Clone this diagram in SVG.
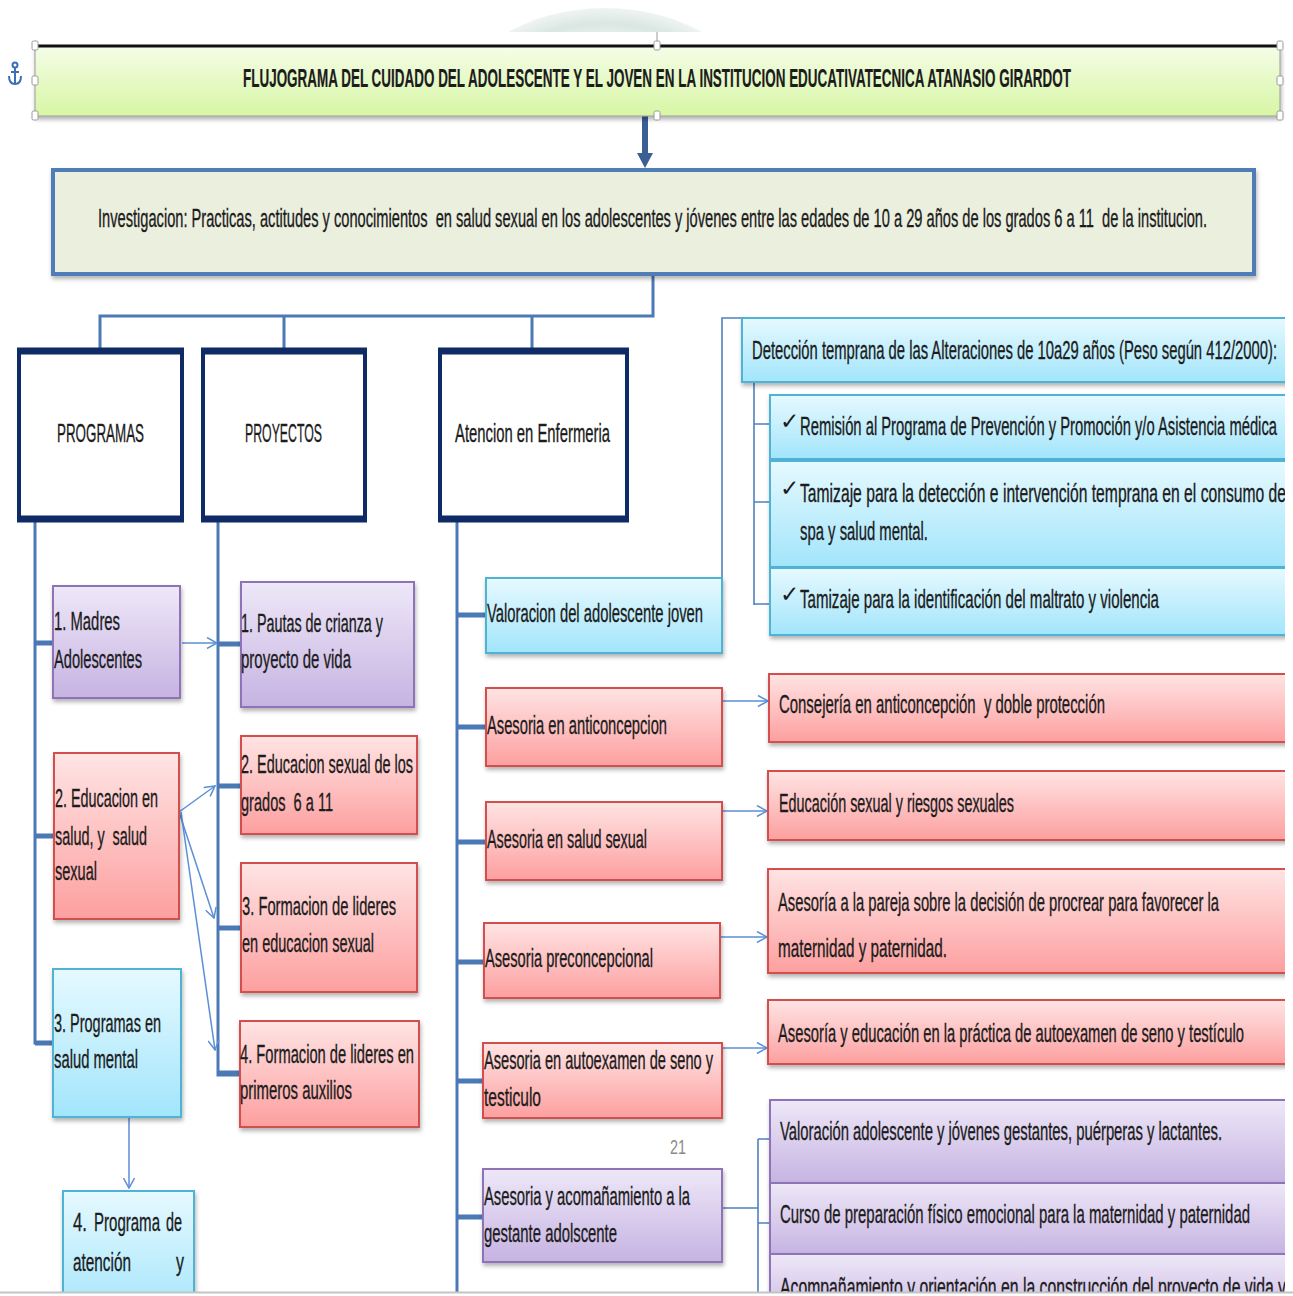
<svg xmlns="http://www.w3.org/2000/svg" width="1293" height="1296" viewBox="0 0 1293 1296">
<defs>
<linearGradient id="gP" x1="0" y1="0" x2="0" y2="1"><stop offset="0" stop-color="#eee8f8"/><stop offset="1" stop-color="#c6b3e2"/></linearGradient>
<linearGradient id="gR" x1="0" y1="0" x2="0" y2="1"><stop offset="0" stop-color="#ffe4e4"/><stop offset="1" stop-color="#fd9f9f"/></linearGradient>
<linearGradient id="gC" x1="0" y1="0" x2="0" y2="1"><stop offset="0" stop-color="#e6f9ff"/><stop offset="1" stop-color="#a2e5fb"/></linearGradient>
<linearGradient id="gG" x1="0" y1="0" x2="0" y2="1"><stop offset="0" stop-color="#f5fde8"/><stop offset="1" stop-color="#d7f6a4"/></linearGradient>
<radialGradient id="gW" cx="0.5" cy="0.5" r="0.5"><stop offset="0.6" stop-color="#f4f8f6"/><stop offset="0.85" stop-color="#d5e4de"/><stop offset="1" stop-color="#eef3f1"/></radialGradient>
<filter id="sh" x="-10%" y="-10%" width="120%" height="130%"><feDropShadow dx="1" dy="3" stdDeviation="2" flood-color="#000" flood-opacity="0.3"/></filter>
<clipPath id="page"><rect x="0" y="0" width="1285" height="1292"/></clipPath>
<clipPath id="top"><rect x="0" y="0" width="1293" height="32"/></clipPath>
<marker id="ar" viewBox="0 0 12 12" refX="11" refY="6" markerWidth="12" markerHeight="12" markerUnits="userSpaceOnUse" orient="auto"><path d="M1,0.5 L11,6 L1,11.5" fill="none" stroke="#5b8fd6" stroke-width="1.5"/></marker>
<style>
.t{font-family:"Liberation Sans Narrow","Liberation Sans",Arial,sans-serif;font-size:26px;fill:#1c1c1c;stroke:#1c1c1c;stroke-width:0.35;white-space:pre}
.b{font-weight:bold;stroke-width:0.2}
.ck{font-family:"DejaVu Sans",sans-serif;font-size:23px;fill:#1c1c1c}
.p{fill:url(#gP);stroke:#8e73b8;stroke-width:2;filter:url(#sh)}
.r{fill:url(#gR);stroke:#d2504e;stroke-width:2;filter:url(#sh)}
.c{fill:url(#gC);stroke:#4fb3d6;stroke-width:2;filter:url(#sh)}
.hd{fill:#fff;stroke:#0e2b66;stroke-width:4}
.hdt{fill:none;stroke:#0e2b66;stroke-width:7}
.trunk{fill:none;stroke:#4a79b5;stroke-width:3}
.br{fill:none;stroke:#4a79b5;stroke-width:5}
.thin{fill:none;stroke:#4f81bd;stroke-width:1.6}
.arr{fill:none;stroke:#5b8fd6;stroke-width:1.5;marker-end:url(#ar)}
.hdl{fill:#fff;stroke:#9a9a9a;stroke-width:1}
.pg{font-family:"Liberation Sans Narrow","Liberation Sans",Arial,sans-serif;font-size:20px;fill:#8a8a8a}
</style>
</defs>
<rect width="1293" height="1296" fill="#fff"/>
<g id="watermark" clip-path="url(#top)">
<ellipse cx="605" cy="110" rx="150" ry="102" fill="url(#gW)" opacity="0.9"/>
</g>
<g clip-path="url(#page)">
<g id="connectors">
<line x1="645" y1="105" x2="645" y2="155" stroke="#3b5f95" stroke-width="6"/>
<path d="M637,153 L653,153 L645,168 Z" fill="#3b5f95"/>
<path class="trunk" d="M653,274 V316 H100 V351 M284,316 V351 M532,316 V351"/>
<path class="trunk" d="M35,519 V1043 H54"/>
<path class="br" d="M35,643 H54 M35,836 H55 M35,1043 H54"/>
<path class="trunk" d="M218,519 V1075 H240"/>
<path class="br" d="M218,644 H241 M218,786 H241 M218,928 H241 M218,1073 H240"/>
<path class="trunk" d="M457,519 V1296"/>
<path class="br" d="M457,615 H486 M457,727 H486 M457,842 H486 M457,962 H484 M457,1081 H483 M457,1217 H483"/>
<path class="thin" d="M701,578 H722 V318 H742"/>
<path class="thin" d="M754,382 V605 M754,424 H770 M754,502 H770 M754,604 H770"/>
<path class="thin" d="M722,1169 V1208 H758 M758,1139 V1296 M758,1139 H770 M758,1223 H770"/>
<line class="arr" x1="182" y1="643" x2="217" y2="643"/>
<line class="arr" x1="179" y1="812" x2="215" y2="786"/>
<line class="arr" x1="179" y1="812" x2="214" y2="918"/>
<line class="arr" x1="181" y1="812" x2="215" y2="1050"/>
<line class="arr" x1="129" y1="1103" x2="129" y2="1188"/>
<line class="arr" x1="717" y1="701" x2="768" y2="701"/>
<line class="arr" x1="717" y1="811" x2="767" y2="811"/>
<line class="arr" x1="715" y1="937" x2="767" y2="937"/>
<line class="arr" x1="717" y1="1048" x2="767" y2="1048"/>
</g>

<g id="title">
<rect x="35" y="46" width="1245" height="70" fill="url(#gG)" stroke="#9a9a9a" stroke-width="1" filter="url(#sh)"/>
<line x1="35" y1="46" x2="1280" y2="46" stroke="#111" stroke-width="3"/>
<text class="t b" x="243" y="87" textLength="828" lengthAdjust="spacingAndGlyphs">FLUJOGRAMA DEL CUIDADO DEL ADOLESCENTE Y EL JOVEN EN LA INSTITUCION EDUCATIVATECNICA ATANASIO GIRARDOT</text>
<line x1="657" y1="32" x2="657" y2="46" stroke="#9a9a9a" stroke-width="1"/>
<rect class="hdl" x="32" y="41" width="6" height="9" rx="1.5"/>
<rect class="hdl" x="654" y="41" width="6" height="9" rx="1.5"/>
<rect class="hdl" x="1277" y="41" width="6" height="9" rx="1.5"/>
<rect class="hdl" x="32" y="76" width="6" height="9" rx="1.5"/>
<rect class="hdl" x="1277" y="76" width="6" height="9" rx="1.5"/>
<rect class="hdl" x="32" y="111" width="6" height="9" rx="1.5"/>
<rect class="hdl" x="654" y="111" width="6" height="9" rx="1.5"/>
<rect class="hdl" x="1277" y="111" width="6" height="9" rx="1.5"/>
<g fill="none" stroke="#3d6fb6" stroke-width="2"><circle cx="15" cy="65" r="2.5"/><path d="M15,68 V84 M9,76 Q9,84 15,84 Q21,84 21,76 M11,72 H19"/></g>
</g>

<g id="investigacion">
<rect x="53" y="170" width="1201" height="104" fill="#ebefde" stroke="#4f7db8" stroke-width="4" filter="url(#sh)"/>
<text class="t" x="98" y="227" font-size="25" textLength="1109" lengthAdjust="spacingAndGlyphs">Investigacion: Practicas, actitudes y conocimientos  en salud sexual en los adolescentes y jóvenes entre las edades de 10 a 29 años de los grados 6 a 11  de la institucion.</text>
</g>

<g id="programas">
<rect class="hd" x="19" y="351" width="163" height="168"/>
<path class="hdt" d="M17,351 H184 M17,519 H184"/>
<text class="t" x="57" y="442" textLength="87" lengthAdjust="spacingAndGlyphs">PROGRAMAS</text>
</g>
<g id="proyectos">
<rect class="hd" x="203" y="351" width="162" height="168"/>
<path class="hdt" d="M201,351 H367 M201,519 H367"/>
<text class="t" x="245" y="442" textLength="77" lengthAdjust="spacingAndGlyphs">PROYECTOS</text>
</g>
<g id="atencion">
<rect class="hd" x="440" y="351" width="187" height="168"/>
<path class="hdt" d="M438,351 H629 M438,519 H629"/>
<text class="t" x="455" y="442" textLength="155" lengthAdjust="spacingAndGlyphs">Atencion en Enfermeria</text>
</g>

<g id="madres">
<rect class="p" x="53" y="586" width="127" height="112"/>
<text class="t" x="54" y="630" textLength="66" lengthAdjust="spacingAndGlyphs">1. Madres</text>
<text class="t" x="54" y="668" textLength="88" lengthAdjust="spacingAndGlyphs">Adolescentes</text>
</g>
<g id="educacion-salud">
<rect class="r" x="54" y="753" width="125" height="166"/>
<text class="t" x="55" y="807" textLength="103" lengthAdjust="spacingAndGlyphs">2. Educacion en</text>
<text class="t" x="55" y="845" textLength="92" lengthAdjust="spacingAndGlyphs">salud, y  salud</text>
<text class="t" x="55" y="880" textLength="42" lengthAdjust="spacingAndGlyphs">sexual</text>
</g>
<g id="salud-mental">
<rect class="c" x="53" y="969" width="128" height="148"/>
<text class="t" x="54" y="1032" textLength="107" lengthAdjust="spacingAndGlyphs">3. Programas en</text>
<text class="t" x="54" y="1068" textLength="84" lengthAdjust="spacingAndGlyphs">salud mental</text>
</g>
<g id="programa-atencion">
<rect class="c" x="63" y="1191" width="131" height="130"/>
<text class="t" x="73" y="1231" textLength="14" lengthAdjust="spacingAndGlyphs">4.</text>
<text class="t" x="94" y="1231" textLength="66" lengthAdjust="spacingAndGlyphs">Programa</text>
<text class="t" x="166" y="1231" textLength="16" lengthAdjust="spacingAndGlyphs">de</text>
<text class="t" x="73" y="1271" textLength="58" lengthAdjust="spacingAndGlyphs">atención</text>
<text class="t" x="176" y="1271" textLength="8" lengthAdjust="spacingAndGlyphs">y</text>
</g>

<g id="pautas">
<rect class="p" x="241" y="582" width="173" height="125"/>
<text class="t" x="241" y="632" textLength="142" lengthAdjust="spacingAndGlyphs">1. Pautas de crianza y</text>
<text class="t" x="241" y="668" textLength="110" lengthAdjust="spacingAndGlyphs">proyecto de vida</text>
</g>
<g id="educacion-grados">
<rect class="r" x="241" y="736" width="176" height="98"/>
<text class="t" x="241" y="773" textLength="172" lengthAdjust="spacingAndGlyphs">2. Educacion sexual de los</text>
<text class="t" x="241" y="811" textLength="92" lengthAdjust="spacingAndGlyphs">grados  6 a 11</text>
</g>
<g id="lideres-sexual">
<rect class="r" x="241" y="863" width="176" height="129"/>
<text class="t" x="242" y="915" textLength="154" lengthAdjust="spacingAndGlyphs">3. Formacion de lideres</text>
<text class="t" x="242" y="952" textLength="132" lengthAdjust="spacingAndGlyphs">en educacion sexual</text>
</g>
<g id="lideres-auxilios">
<rect class="r" x="240" y="1021" width="179" height="106"/>
<text class="t" x="240" y="1063" textLength="174" lengthAdjust="spacingAndGlyphs">4. Formacion de lideres en</text>
<text class="t" x="240" y="1099" textLength="112" lengthAdjust="spacingAndGlyphs">primeros auxilios</text>
</g>

<g id="valoracion">
<rect class="c" x="486" y="578" width="236" height="75"/>
<text class="t" x="487" y="622" textLength="216" lengthAdjust="spacingAndGlyphs">Valoracion del adolescente joven</text>
</g>
<g id="anticoncepcion">
<rect class="r" x="486" y="688" width="236" height="78"/>
<text class="t" x="487" y="734" textLength="180" lengthAdjust="spacingAndGlyphs">Asesoria en anticoncepcion</text>
</g>
<g id="salud-sexual">
<rect class="r" x="486" y="802" width="236" height="78"/>
<text class="t" x="487" y="848" textLength="160" lengthAdjust="spacingAndGlyphs">Asesoria en salud sexual</text>
</g>
<g id="preconcepcional">
<rect class="r" x="484" y="923" width="236" height="75"/>
<text class="t" x="485" y="967" textLength="168" lengthAdjust="spacingAndGlyphs">Asesoria preconcepcional</text>
</g>
<g id="autoexamen">
<rect class="r" x="483" y="1043" width="239" height="75"/>
<text class="t" x="484" y="1069" textLength="229" lengthAdjust="spacingAndGlyphs">Asesoria en autoexamen de seno y</text>
<text class="t" x="484" y="1106" textLength="57" lengthAdjust="spacingAndGlyphs">testiculo</text>
</g>
<g id="gestante">
<rect class="p" x="483" y="1169" width="239" height="93"/>
<text class="t" x="484" y="1205" textLength="206" lengthAdjust="spacingAndGlyphs">Asesoria y acomañamiento a la</text>
<text class="t" x="484" y="1242" textLength="133" lengthAdjust="spacingAndGlyphs">gestante adolscente</text>
</g>
<text class="pg" x="670" y="1154" textLength="16" lengthAdjust="spacingAndGlyphs">21</text>

<g id="deteccion">
<rect class="c" x="742" y="318" width="560" height="64"/>
<text class="t" x="752" y="359" textLength="525" lengthAdjust="spacingAndGlyphs">Detección temprana de las Alteraciones de 10a29 años (Peso según 412/2000):</text>
</g>
<g id="remision">
<rect class="c" x="770" y="395" width="530" height="64"/>
<text class="ck" x="780" y="429">✓</text>
<text class="t" x="800" y="435" textLength="477" lengthAdjust="spacingAndGlyphs">Remisión al Programa de Prevención y Promoción y/o Asistencia médica</text>
</g>
<g id="tamizaje-spa">
<rect class="c" x="770" y="461" width="530" height="106"/>
<text class="ck" x="780" y="496">✓</text>
<text class="t" x="800" y="502" textLength="486" lengthAdjust="spacingAndGlyphs">Tamizaje para la detección e intervención temprana en el consumo de</text>
<text class="t" x="800" y="540" textLength="128" lengthAdjust="spacingAndGlyphs">spa y salud mental.</text>
</g>
<g id="tamizaje-maltrato">
<rect class="c" x="770" y="568" width="530" height="67"/>
<text class="ck" x="780" y="602">✓</text>
<text class="t" x="800" y="608" textLength="359" lengthAdjust="spacingAndGlyphs">Tamizaje para la identificación del maltrato y violencia</text>
</g>

<g id="consejeria">
<rect class="r" x="769" y="674" width="530" height="68"/>
<text class="t" x="779" y="713" textLength="326" lengthAdjust="spacingAndGlyphs">Consejería en anticoncepción  y doble protección</text>
</g>
<g id="educacion-riesgos">
<rect class="r" x="768" y="771" width="530" height="69"/>
<text class="t" x="779" y="812" textLength="235" lengthAdjust="spacingAndGlyphs">Educación sexual y riesgos sexuales</text>
</g>
<g id="pareja">
<rect class="r" x="768" y="869" width="530" height="104"/>
<text class="t" x="778" y="911" textLength="441" lengthAdjust="spacingAndGlyphs">Asesoría a la pareja sobre la decisión de procrear para favorecer la</text>
<text class="t" x="778" y="957" textLength="169" lengthAdjust="spacingAndGlyphs">maternidad y paternidad.</text>
</g>
<g id="autoexamen-educacion">
<rect class="r" x="768" y="1000" width="530" height="64"/>
<text class="t" x="778" y="1042" textLength="466" lengthAdjust="spacingAndGlyphs">Asesoría y educación en la práctica de autoexamen de seno y testículo</text>
</g>

<g id="valoracion-gestantes">
<rect class="p" x="770" y="1100" width="530" height="83"/>
<text class="t" x="780" y="1140" textLength="442" lengthAdjust="spacingAndGlyphs">Valoración adolescente y jóvenes gestantes, puérperas y lactantes.</text>
</g>
<g id="curso">
<rect class="p" x="770" y="1183" width="530" height="71"/>
<text class="t" x="780" y="1223" textLength="470" lengthAdjust="spacingAndGlyphs">Curso de preparación físico emocional para la maternidad y paternidad</text>
</g>
<g id="acompanamiento">
<rect class="p" x="770" y="1254" width="530" height="70"/>
<text class="t" x="780" y="1296" textLength="506" lengthAdjust="spacingAndGlyphs">Acompañamiento y orientación en la construcción del proyecto de vida y</text>
</g>
</g>
<rect x="0" y="1292" width="1293" height="4" fill="#fff"/>
<line x1="0" y1="1292.5" x2="1293" y2="1292.5" stroke="#c4c4c4" stroke-width="2"/>
</svg>
